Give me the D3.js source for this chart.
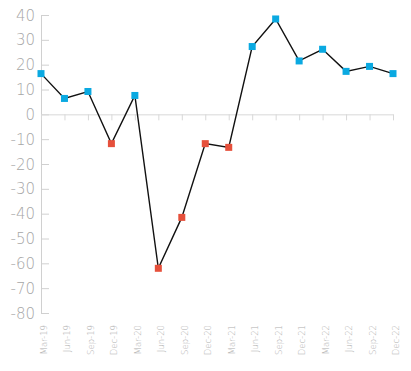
<!DOCTYPE html>
<html><head><meta charset="utf-8">
<script src="https://cdn.jsdelivr.net/npm/d3@7"></script>
<style>
body{margin:0;background:#fff;}
svg{display:block;}
.yl{font-family:"DejaVu Sans";font-weight:200;font-size:15px;fill:#a6a6a6;}
.xl{font-family:"DejaVu Sans";font-weight:200;font-size:8.5px;fill:#b0b0b0;}
</style></head>
<body>
<svg id="c" width="411" height="371"></svg>
<script>
const categories = ["Mar-19","Jun-19","Sep-19","Dec-19","Mar-20","Jun-20","Sep-20","Dec-20","Mar-21","Jun-21","Sep-21","Dec-21","Mar-22","Jun-22","Sep-22","Dec-22"];
const values = [16.4, 6.4, 9.2, -11.8, 7.6, -62, -41.5, -11.8, -13.3, 27.3, 38.4, 21.5, 26.2, 17.3, 19.3, 16.4];
const yTicks = [40,30,20,10,0,-10,-20,-30,-40,-50,-60,-70,-80];

const svg = d3.select("#c");
const x = d3.scalePoint().domain(categories).range([41, 393]);
const y = d3.scaleLinear().domain([-80, 40]).range([313, 15]);

// y axis
const ya = svg.append("g").attr("transform","translate(41,0)")
  .call(d3.axisRight(y).tickValues(yTicks).tickSize(8).tickFormat(""));
ya.select(".domain").attr("stroke","#d0d0d0");
ya.selectAll(".tick line").attr("stroke","#d0d0d0");
svg.append("g").selectAll("text").data(yTicks).join("text")
  .attr("class","yl").attr("x",35).attr("y",d=>y(d)+5.5).attr("text-anchor","end")
  .text(d=>d);

// zero line with ticks
const xa = svg.append("g").attr("transform",`translate(0,${y(0)})`)
  .call(d3.axisBottom(x).tickSize(6).tickSizeOuter(0).tickFormat(""));
xa.select(".domain").attr("stroke","#d8d8d8");
xa.selectAll(".tick line").attr("stroke","#d8d8d8");

// x labels
svg.append("g").selectAll("text").data(categories).join("text")
  .attr("class","xl").attr("text-anchor","end")
  .attr("transform",d=>`translate(${x(d)+6},325) rotate(-90)`)
  .text(d=>d);

// line
svg.append("path").datum(values)
  .attr("fill","none").attr("stroke","#111").attr("stroke-width",1.4)
  .attr("d", d3.line().x((d,i)=>x(categories[i])).y(d=>y(d)));

// markers
const s = 7;
svg.append("g").selectAll("rect").data(values).join("rect")
  .attr("x",(d,i)=>x(categories[i])-s/2).attr("y",d=>y(d)-s/2)
  .attr("width",s).attr("height",s)
  .attr("fill",d=>d>=0?"#0aa9e1":"#e6503b");
</script>
</body></html>
